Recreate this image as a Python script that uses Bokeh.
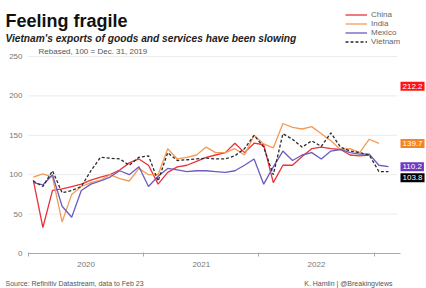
import pandas as pd
from bokeh.plotting import figure
from bokeh.models import Label, Legend, LegendItem, FixedTicker, Range1d
from bokeh.embed import file_html
from bokeh.resources import INLINE

# Monthly data, Jan 2020 .. Feb 2023 (rebased, 100 = Dec. 31, 2019)
months = pd.date_range("2020-01-01", "2023-02-01", freq="MS")
china = [93, 33, 80, 82, 85, 88, 93, 97, 100, 106, 115, 120,
         112, 88, 103, 110, 112, 117, 122, 125, 128, 140, 128, 140,
         138, 90, 112, 112, 123, 133, 135, 133, 132, 125, 124, 125]
india = [97, 101, 97, 40, 75, 85, 90, 93, 100, 95, 92, 108,
         100, 100, 133, 120, 122, 125, 135, 128, 128, 133, 125, 150,
         139, 134, 165, 160, 158, 161, 152, 143, 132, 133, 128, 145,
         139.7]
mexico = [90, 87, 100, 60, 46, 80, 88, 92, 97, 105, 100, 110,
          85, 98, 108, 106, 104, 105, 105, 104, 103, 105, 112, 120,
          88, 110, 130, 118, 125, 128, 120, 130, 132, 128, 126, 126,
          112, 110.2]
vietnam = [92, 85, 105, 77, 80, 85, 105, 122, 121, 120, 112, 122,
           124, 92, 128, 118, 119, 120, 121, 120, 120, 124, 133, 150,
           135, 100, 152, 145, 135, 143, 136, 153, 135, 130, 128, 125,
           104, 103.8]

series_names = ["China", "India", "Mexico", "Vietnam"]
series_colors = ["#e8333a", "#f59a55", "#6a5cc0", "#2b2b2b"]
label_texts = ["212.2", "139.7", "110.2", "103.8"]
label_values = [212.2, 139.7, 110.2, 103.8]
label_colors = ["#ff1414", "#f5861f", "#7139c2", "#000000"]

year_ticks = [6, 18, 30]
year_labels = ["2020", "2021", "2022"]
year_bounds = [0, 12, 24, 36]
y_ticks = [0, 50, 100, 150, 200, 250]
grid_ticks = [50, 100, 150, 200, 250]


def xpos(n):
    return [(d.year - 2020) * 12 + d.month - 1 + 0.5 for d in months[:n]]


FONT = "Liberation Sans"
W, H = 426, 288
X0, PXM = 28, 9.6          # pixel of month 0, pixels per month
Y0, PYU = 253, 0.788       # pixel of value 0, pixels per unit

p = figure(width=W, height=H, output_backend="svg", toolbar_location=None,
           x_range=Range1d(-X0 / PXM, (W - X0) / PXM),
           y_range=Range1d(-(H - Y0) / PYU, Y0 / PYU),
           min_border_left=0, min_border_right=0, min_border_top=0,
           min_border_bottom=0)
p.outline_line_color = None
p.xgrid.visible = False
p.ygrid.visible = False

# horizontal gridlines limited to the chart area
p.segment(x0=[0] * len(grid_ticks), x1=[38.4] * len(grid_ticks),
          y0=grid_ticks, y1=grid_ticks, line_color="#ececec", line_width=1)

p.yaxis.fixed_location = 0
p.yaxis.bounds = (0, 250)
p.yaxis.ticker = FixedTicker(ticks=y_ticks)
p.yaxis.axis_line_color = None
p.yaxis.major_tick_line_color = None
p.yaxis.major_tick_out = 0
p.yaxis.major_tick_in = 0
p.yaxis.minor_tick_line_color = None
p.yaxis.major_label_text_font = FONT
p.yaxis.major_label_text_font_size = "8px"
p.yaxis.major_label_text_color = "#777777"
p.yaxis.major_label_standoff = 6

p.xaxis.fixed_location = 0
p.xaxis.bounds = (0, 38.75)
p.xaxis.ticker = FixedTicker(ticks=year_ticks, minor_ticks=year_bounds)
p.xaxis.major_label_overrides = {t: l for t, l in zip(year_ticks, year_labels)}
p.xaxis.axis_line_color = "#a8a8a8"
p.xaxis.major_tick_line_color = None
p.xaxis.major_tick_out = 0
p.xaxis.major_tick_in = 0
p.xaxis.minor_tick_line_color = "#a8a8a8"
p.xaxis.minor_tick_in = 1
p.xaxis.minor_tick_out = 3
p.xaxis.major_label_text_font = FONT
p.xaxis.major_label_text_font_size = "8px"
p.xaxis.major_label_text_color = "#777777"
p.xaxis.major_label_standoff = 5

renderers = []
for name, vals, col in zip(series_names, [china, india, mexico, vietnam], series_colors):
    dash = "3 2" if name == "Vietnam" else "solid"
    r = p.line(xpos(len(vals)), vals, line_color=col, line_width=1.3, line_dash=dash)
    renderers.append(r)

legend = Legend(items=[LegendItem(label=n, renderers=[r]) for n, r in zip(series_names, renderers)],
                location=(345, H - 46), orientation="vertical",
                label_text_font=FONT, label_text_font_size="8px",
                label_text_color="#666666", glyph_width=22, glyph_height=9,
                label_height=9, spacing=0, padding=0, margin=0, label_standoff=4,
                background_fill_alpha=0, border_line_color=None)
p.add_layout(legend)

for txt, v, col in zip(label_texts, label_values, label_colors):
    off = -6 if txt == "103.8" else 0
    p.add_layout(Label(x=400, y=v, x_units="screen", y_units="data", y_offset=off,
                       text=txt, text_font=FONT, text_font_size="8px",
                       text_color="white", text_baseline="middle", text_align="left",
                       background_fill_color=col, padding=2))

p.add_layout(Label(x=5, y=H - 20, x_units="screen", y_units="screen",
                   text="Feeling fragile", text_font=FONT, text_font_style="bold",
                   text_font_size="18px", text_color="#111111", text_baseline="alphabetic"))
p.add_layout(Label(x=5, y=H - 38, x_units="screen", y_units="screen",
                   text="Vietnam's exports of goods and services have been slowing",
                   text_font=FONT, text_font_style="bold italic",
                   text_font_size="10.2px", text_color="#222222", text_baseline="alphabetic"))
p.add_layout(Label(x=38, y=H - 51, x_units="screen", y_units="screen",
                   text="Rebased, 100 = Dec. 31, 2019", text_font=FONT,
                   text_font_size="8px", text_color="#555555", text_baseline="alphabetic"))
p.add_layout(Label(x=5, y=5, x_units="screen", y_units="screen",
                   text="Source: Refinitiv Datastream, data to Feb 23", text_font=FONT,
                   text_font_size="7px", text_color="#555555", text_baseline="alphabetic"))
p.add_layout(Label(x=392, y=5, x_units="screen", y_units="screen",
                   text="K. Hamlin | @Breakingviews", text_font=FONT,
                   text_font_size="7px", text_color="#555555", text_baseline="alphabetic",
                   text_align="right"))

open("out.html", "w").write(file_html(p, INLINE))
